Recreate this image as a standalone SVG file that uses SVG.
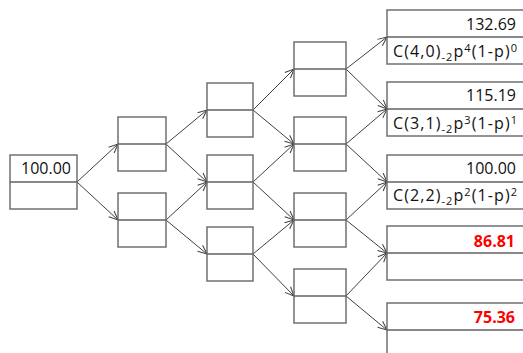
<svg xmlns="http://www.w3.org/2000/svg" width="523" height="353" viewBox="0 0 523 353">
  <style>
    .box { fill: #ffffff; stroke: #707070; stroke-width: 1.5; }
    .div { stroke: #606060; stroke-width: 1.5; }
    .edge { fill: none; stroke: #404040; stroke-width: 1; marker-end: url(#arrow); }
    .val { font-family: "Open Sans", "Noto Sans", sans-serif; font-size: 16px; fill: #111111; text-anchor: end; }
    .hot { font-family: "Open Sans", "Noto Sans", sans-serif; font-size: 16px; font-weight: bold; fill: #ff0000; text-anchor: end; }
    .sm { font-size: 11px; }
  </style>
  <defs>
    <marker id="arrow" markerUnits="userSpaceOnUse" markerWidth="12" markerHeight="12" refX="10" refY="5" orient="auto">
      <path d="M1,1 L10,5 L1,9" fill="none" stroke="#404040" stroke-width="1"/>
    </marker>
  </defs>

  <!-- connectors: right-middle of parent to left-middle of child -->
  <g id="connectors">
    <line class="edge" x1="77" y1="182" x2="118" y2="144"/>
    <line class="edge" x1="77" y1="182" x2="118" y2="220"/>
    <line class="edge" x1="166" y1="144" x2="207" y2="110"/>
    <line class="edge" x1="166" y1="144" x2="207" y2="182"/>
    <line class="edge" x1="166" y1="220" x2="207" y2="182"/>
    <line class="edge" x1="166" y1="220" x2="207" y2="254"/>
    <line class="edge" x1="253" y1="110" x2="294" y2="69"/>
    <line class="edge" x1="253" y1="110" x2="294" y2="144"/>
    <line class="edge" x1="253" y1="182" x2="294" y2="144"/>
    <line class="edge" x1="253" y1="182" x2="294" y2="220"/>
    <line class="edge" x1="253" y1="254" x2="294" y2="220"/>
    <line class="edge" x1="253" y1="254" x2="294" y2="296"/>
    <line class="edge" x1="346" y1="69" x2="387" y2="37"/>
    <line class="edge" x1="346" y1="69" x2="387" y2="109"/>
    <line class="edge" x1="346" y1="144" x2="387" y2="109"/>
    <line class="edge" x1="346" y1="144" x2="387" y2="182"/>
    <line class="edge" x1="346" y1="220" x2="387" y2="182"/>
    <line class="edge" x1="346" y1="220" x2="387" y2="253"/>
    <line class="edge" x1="346" y1="296" x2="387" y2="253"/>
    <line class="edge" x1="346" y1="296" x2="387" y2="330"/>
  </g>

  <!-- root -->
  <g id="n0">
    <rect class="box" x="10" y="155" width="67" height="54"/>
    <line class="div" x1="10" y1="182" x2="77" y2="182"/>
    <text class="val" x="71" y="174">100.00</text>
  </g>

  <!-- step 1 -->
  <g id="n1a">
    <rect class="box" x="118" y="117" width="48" height="54"/>
    <line class="div" x1="118" y1="144" x2="166" y2="144"/>
  </g>
  <g id="n1b">
    <rect class="box" x="118" y="193" width="48" height="54"/>
    <line class="div" x1="118" y1="220" x2="166" y2="220"/>
  </g>

  <!-- step 2 -->
  <g id="n2a">
    <rect class="box" x="207" y="83" width="46" height="54"/>
    <line class="div" x1="207" y1="110" x2="253" y2="110"/>
  </g>
  <g id="n2b">
    <rect class="box" x="207" y="155" width="46" height="54"/>
    <line class="div" x1="207" y1="182" x2="253" y2="182"/>
  </g>
  <g id="n2c">
    <rect class="box" x="207" y="227" width="46" height="54"/>
    <line class="div" x1="207" y1="254" x2="253" y2="254"/>
  </g>

  <!-- step 3 -->
  <g id="n3a">
    <rect class="box" x="294" y="42" width="52" height="54"/>
    <line class="div" x1="294" y1="69" x2="346" y2="69"/>
  </g>
  <g id="n3b">
    <rect class="box" x="294" y="117" width="52" height="54"/>
    <line class="div" x1="294" y1="144" x2="346" y2="144"/>
  </g>
  <g id="n3c">
    <rect class="box" x="294" y="193" width="52" height="54"/>
    <line class="div" x1="294" y1="220" x2="346" y2="220"/>
  </g>
  <g id="n3d">
    <rect class="box" x="294" y="269" width="52" height="54"/>
    <line class="div" x1="294" y1="296" x2="346" y2="296"/>
  </g>

  <!-- step 4 (terminal prices) -->
  <g id="n4a">
    <rect class="box" x="387" y="10" width="145" height="54"/>
    <line class="div" x1="387" y1="37" x2="523" y2="37"/>
    <text class="val" x="516" y="30">132.69</text>
    <text class="val" x="517" y="57" textLength="124" lengthAdjust="spacing">C(4,0)<tspan class="sm" dy="4">-2</tspan><tspan dy="-4">p</tspan><tspan class="sm" dy="-5">4</tspan><tspan dy="5">(1-p)</tspan><tspan class="sm" dy="-5">0</tspan></text>
  </g>
  <g id="n4b">
    <rect class="box" x="387" y="82" width="145" height="54"/>
    <line class="div" x1="387" y1="109" x2="523" y2="109"/>
    <text class="val" x="516" y="101">115.19</text>
    <text class="val" x="517" y="129" textLength="124" lengthAdjust="spacing">C(3,1)<tspan class="sm" dy="4">-2</tspan><tspan dy="-4">p</tspan><tspan class="sm" dy="-5">3</tspan><tspan dy="5">(1-p)</tspan><tspan class="sm" dy="-5">1</tspan></text>
  </g>
  <g id="n4c">
    <rect class="box" x="387" y="155" width="145" height="54"/>
    <line class="div" x1="387" y1="182" x2="523" y2="182"/>
    <text class="val" x="516" y="174">100.00</text>
    <text class="val" x="517" y="201" textLength="124" lengthAdjust="spacing">C(2,2)<tspan class="sm" dy="4">-2</tspan><tspan dy="-4">p</tspan><tspan class="sm" dy="-5">2</tspan><tspan dy="5">(1-p)</tspan><tspan class="sm" dy="-5">2</tspan></text>
  </g>
  <g id="n4d">
    <rect class="box" x="387" y="226" width="145" height="54"/>
    <line class="div" x1="387" y1="253" x2="523" y2="253"/>
    <text class="hot" x="515" y="247">86.81</text>
  </g>
  <g id="n4e">
    <rect class="box" x="387" y="303" width="145" height="54"/>
    <line class="div" x1="387" y1="330" x2="523" y2="330"/>
    <text class="hot" x="515" y="323">75.36</text>
  </g>
</svg>
